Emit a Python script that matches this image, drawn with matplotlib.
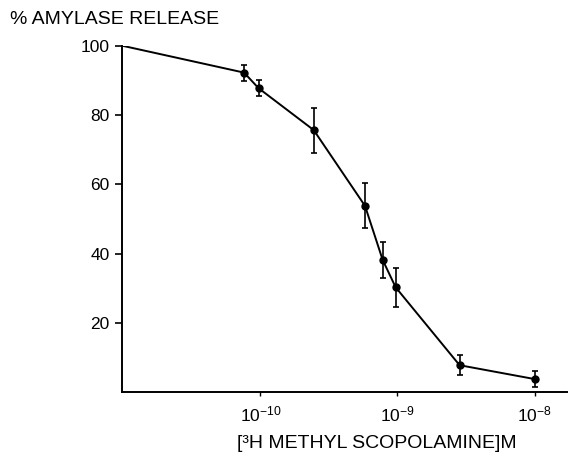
import numpy as np
import matplotlib
matplotlib.use('Agg')
import matplotlib.pyplot as plt

plt.rcParams['font.family'] = ['Liberation Sans', 'DejaVu Sans']
plt.rcParams['mathtext.fontset'] = 'custom'
plt.rcParams['mathtext.rm'] = 'Liberation Sans'

# concentration of [3H] methyl scopolamine (M) and % amylase release
conc = [1e-11, 7.6e-11, 9.7e-11, 2.45e-10, 5.8e-10, 7.8e-10, 9.7e-10, 2.84e-9, 1.0e-8]
release = [100, 92.3, 87.8, 75.7, 53.8, 38.2, 30.3, 7.8, 3.8]
err = [0, 2.3, 2.3, 6.5, 6.5, 5.3, 5.7, 2.9, 2.3]

yticks = [20, 40, 60, 80, 100]
xticks = [1e-10, 1e-9, 1e-8]
xticklabels = [r'$\mathregular{10^{-10}}$', r'$\mathregular{10^{-9}}$', r'$\mathregular{10^{-8}}$']

fig = plt.figure(figsize=(5.8, 4.55), dpi=100)
ax = fig.add_axes([0.2103, 0.138, 0.768, 0.761])

ax.errorbar(conc[1:], release[1:], yerr=err[1:], fmt='none', ecolor='black',
            elinewidth=1.2, capsize=2.5, capthick=1.2, zorder=2)
ax.plot(conc, release, color='black', lw=1.4, zorder=3)
ax.plot(conc[1:], release[1:], 'o', color='black', ms=5, zorder=4)

ax.set_xscale('log')
ax.set_xlim(10 ** -11.01, 10 ** -7.76)
ax.set_ylim(0, 100)

ax.set_yticks(yticks)
ax.set_yticklabels([str(v) for v in yticks])
ax.set_xticks(xticks)
ax.set_xticklabels(xticklabels)
ax.xaxis.set_minor_locator(matplotlib.ticker.NullLocator())

ax.tick_params(axis='y', direction='out', length=5, width=1.2, labelsize=12.5, pad=4)
ax.tick_params(axis='x', direction='out', length=3, width=1.0, labelsize=12.5, pad=6)

for s in ['top', 'right']:
    ax.spines[s].set_visible(False)
ax.spines['left'].set_linewidth(1.4)
ax.spines['bottom'].set_linewidth(1.4)

fig.text(10 / 580, 1 - 20 / 455, '% AMYLASE RELEASE', fontsize=14,
         ha='left', va='center')
fig.text(377 / 580, 1 - 443 / 455, '[\u00b3H METHYL SCOPOLAMINE]M', fontsize=14,
         ha='center', va='center')

fig.savefig('out.png', dpi=100)
